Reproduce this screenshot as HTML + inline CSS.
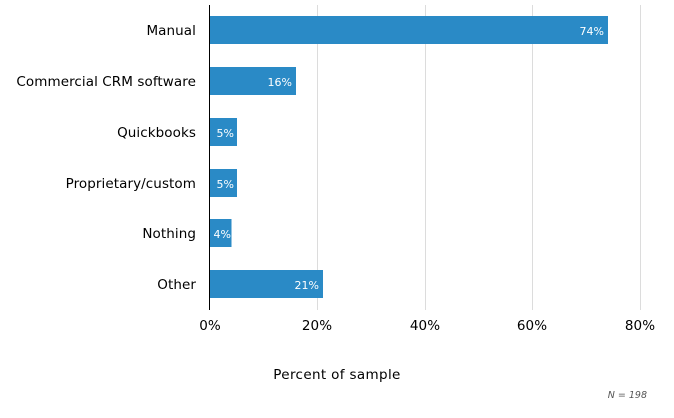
<!DOCTYPE html>
<html><head><meta charset="utf-8"><style>
body{margin:0;background:#fff;}
svg{display:block;font-family:"DejaVu Sans",Verdana,sans-serif;}
</style></head><body>
<svg width="674" height="418" xmlns="http://www.w3.org/2000/svg">
<g stroke="#dcdcdc" stroke-width="1">
<line x1="317.5" y1="5" x2="317.5" y2="310"/>
<line x1="425.5" y1="5" x2="425.5" y2="310"/>
<line x1="532.5" y1="5" x2="532.5" y2="310"/>
<line x1="640.5" y1="5" x2="640.5" y2="310"/>
</g>
<g fill="#2a8ac6">
<rect x="210" y="16" width="398" height="28"/>
<rect x="210" y="67" width="86" height="28"/>
<rect x="210" y="118" width="27" height="28"/>
<rect x="210" y="169" width="27" height="28"/>
<rect x="210" y="219" width="21.5" height="28"/>
<rect x="210" y="270" width="113" height="28"/>
</g>
<line x1="209.5" y1="5" x2="209.5" y2="310" stroke="#000" stroke-width="1"/>
<g font-size="11" fill="#fff" text-anchor="end">
<text x="604" y="35">74%</text>
<text x="292" y="86">16%</text>
<text x="234" y="137">5%</text>
<text x="234" y="188">5%</text>
<text x="231" y="238">4%</text>
<text x="319" y="289">21%</text>
</g>
<g font-size="13.5" fill="#000" text-anchor="end" letter-spacing="0.08">
<text x="196" y="35">Manual</text>
<text x="196" y="86">Commercial CRM software</text>
<text x="196" y="137">Quickbooks</text>
<text x="196" y="188">Proprietary/custom</text>
<text x="196" y="238">Nothing</text>
<text x="196" y="289">Other</text>
</g>
<g font-size="13.5" fill="#000" text-anchor="middle" letter-spacing="0.08">
<text x="210" y="330">0%</text>
<text x="317" y="330">20%</text>
<text x="425" y="330">40%</text>
<text x="532" y="330">60%</text>
<text x="640" y="330">80%</text>
<text x="337" y="379" letter-spacing="0.35">Percent of sample</text>
</g>
<text x="647" y="398" font-size="9.5" font-style="italic" fill="#555" text-anchor="end">N = 198</text>
</svg>
</body></html>
